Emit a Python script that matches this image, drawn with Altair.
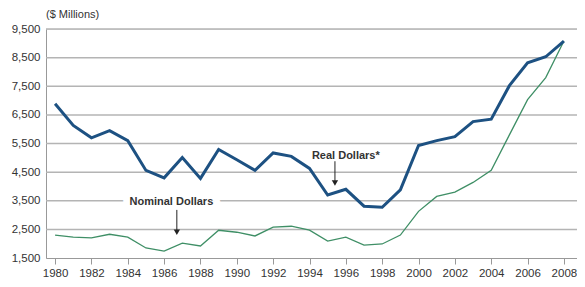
import altair as alt
import pandas as pd

years = list(range(1980, 2009))
real = [6890, 6130, 5700, 5950, 5600, 4560, 4300, 5010, 4280, 5290,
        4930, 4560, 5170, 5050, 4630, 3700, 3900, 3310, 3270, 3880,
        5430, 5600, 5740, 6265, 6350, 7520, 8320, 8530, 9080]
nominal = [2300, 2230, 2200, 2330, 2230, 1850, 1740, 2020, 1920, 2470,
           2400, 2270, 2580, 2610, 2470, 2090, 2230, 1950, 1990, 2300,
           3130, 3650, 3800, 4140, 4560, 5800, 7030, 7800, 9080]

y_ticks = [1500, 2500, 3500, 4500, 5500, 6500, 7500, 8500, 9500]
x_ticks = list(range(1980, 2009, 2))

ann_labels = ["Real Dollars*", "Nominal Dollars"]
ann_x = [1996.0, 1986.4]
ann_y = [5070, 3450]
arrow_x = [1995.4, 1986.7]
arrow_top = [4880, 3180]
arrow_bot = [4120, 2400]

FONT = "Liberation Sans Narrow, Arial Narrow, Liberation Sans, Arial"

df = pd.DataFrame({"year": years, "real": real, "nominal": nominal})
ann = pd.DataFrame({"label": ann_labels, "x": ann_x, "y": ann_y,
                    "ax": arrow_x, "atop": arrow_top, "abot": arrow_bot})

xs = alt.Scale(domain=[1979.5, 2008.72], nice=False, zero=False)
ys = alt.Scale(domain=[1500, 9500], nice=False, zero=False)

XA = alt.Axis(values=x_ticks, format="d", grid=False, labelOverlap=False,
              labelFont=FONT, labelFontSize=11.5, labelColor="#333333",
              domainColor="#999999", tickColor="#999999",
              tickSize=6, labelPadding=3, labelFlush=False, title=None)
YA = alt.Axis(values=y_ticks, format=",.0f", grid=False, ticks=False,
              labelOverlap=False, labelFont=FONT, labelFontSize=11.5,
              labelColor="#333333", domainColor="#999999", labelPadding=6,
              title=None)


def X(f):
    return alt.X(f, scale=xs, axis=XA, title=None)


def Y(f):
    return alt.Y(f, scale=ys, axis=YA, title=None)


base = alt.Chart(df)

grid = alt.Chart(pd.DataFrame({"v": y_ticks[1:]})).mark_rule(
    color="#b4b4b4", strokeWidth=1.5
).encode(y=Y("v:Q"))

real_line = base.mark_line(color="#1d5182", strokeWidth=3).encode(
    x=X("year:Q"), y=Y("real:Q"))
nom_line = base.mark_line(color="#3f8f66", strokeWidth=1.3).encode(
    x=X("year:Q"), y=Y("nominal:Q"))

a = alt.Chart(ann)
bg = a.transform_filter(alt.datum.label == "Nominal Dollars").mark_text(
    font=FONT, fontSize=11, fontWeight="bold", stroke="white", strokeWidth=14,
    color="white"
).encode(x=X("x:Q"), y=Y("y:Q"), text="label:N")
txt = a.mark_text(font=FONT, fontSize=11, fontWeight="bold", color="#333333").encode(
    x=X("x:Q"), y=Y("y:Q"), text="label:N")
shaft = a.mark_rule(color="#222222", strokeWidth=1).encode(
    x=X("ax:Q"), y=Y("atop:Q"), y2="abot:Q")
head = a.mark_point(shape="triangle-down", filled=True, color="#222222",
                    size=40, opacity=1).encode(
    x=X("ax:Q"), y=Y("abot:Q"))

title = alt.Chart(pd.DataFrame({"t": ["($ Millions)"]})).mark_text(
    font="Liberation Sans, Arial", fontSize=11, color="#333333", align="left",
    baseline="middle"
).encode(x=alt.value(0), y=alt.value(-14), text="t:N")

chart = alt.layer(grid, nom_line, real_line, bg, txt, shaft, head, title).properties(
    width=531, height=229,
    autosize=alt.AutoSizeParams(type="none"),
    padding={"left": 38, "top": 21, "right": 0, "bottom": 30},
).configure_view(stroke=None).configure(background="white")

chart.save("out.html", embed_options={"renderer": "svg", "actions": False})
